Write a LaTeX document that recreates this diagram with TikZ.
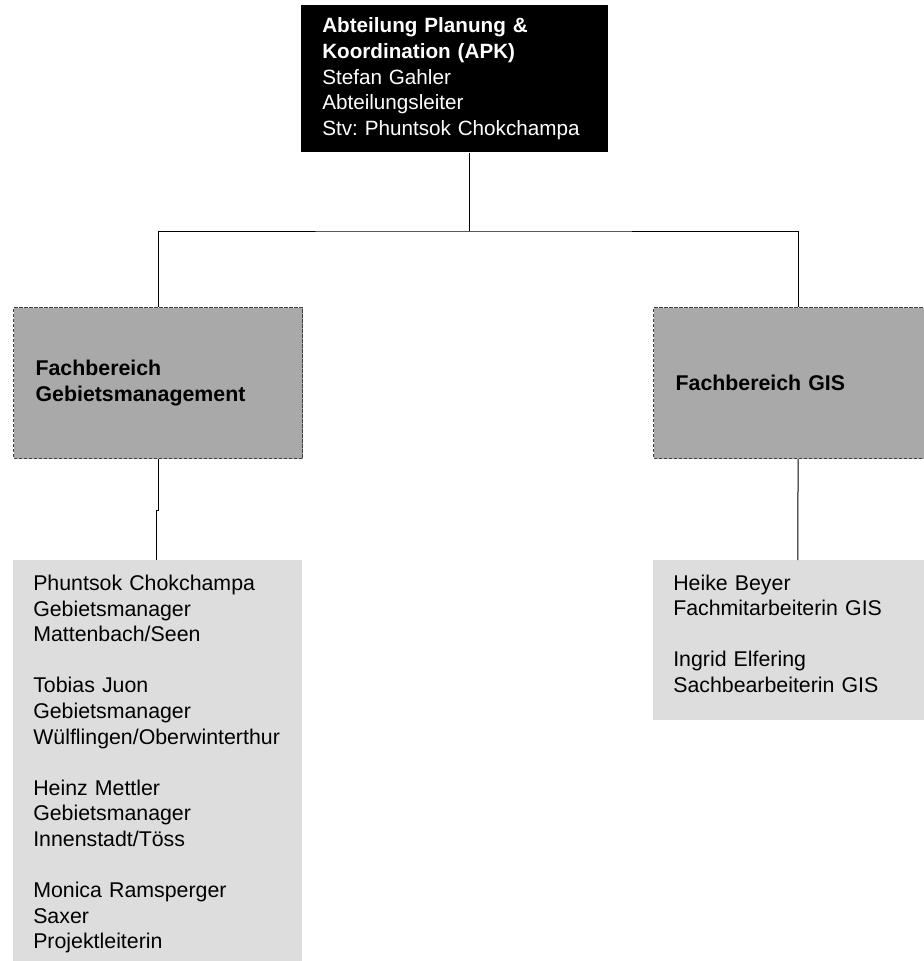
\documentclass[tikz,border=0pt]{standalone}
\usepackage{fontspec}
\setmainfont{Liberation Sans}
\usepackage{xcolor}
\usetikzlibrary{positioning}
\newcommand{\pxu}{0.75pt}
\definecolor{areagray}{HTML}{A9A9A9}
\definecolor{listgray}{HTML}{DDDDDD}
\definecolor{edgegray}{HTML}{404040}
\tikzset{
    headsty/.style={fill=black, text=white, anchor=north west, align=left,
        text width=265*\pxu, inner xsep=21*\pxu, inner ysep=0pt,
        minimum height=147*\pxu, font=\fontsize{15.5}{19.2}\selectfont\frenchspacing},
    areasty/.style={fill=areagray, draw=edgegray, line width=0.9pt,
        dash pattern=on 2.5pt off 1.25pt, anchor=north west, align=left,
        text width=245*\pxu, inner xsep=22*\pxu, inner ysep=0pt,
        minimum height=151*\pxu, font=\fontsize{16}{19.2}\selectfont\bfseries},
    liststy/.style={fill=listgray, anchor=north west, align=left,
        text width=249*\pxu, inner xsep=20*\pxu, inner ysep=0pt,
        font=\fontsize{16}{19.2}\selectfont\frenchspacing},
    linksty/.style={draw=black, line width=0.75pt},
}

\begin{document}
\begin{tikzpicture}[x=\pxu, y=-\pxu]
  \useasboundingbox (0,0) rectangle (924,961);

  \node[headsty] (apk) at (301,5)
    {{\bfseries Abteilung Planung \&\\ Koordination (APK)}\\
     Stefan Gahler\\ Abteilungsleiter\\ Stv: Phuntsok Chokchampa};

  \node[areasty] (gm)  at (13,307)  {Fachbereich\\ Gebietsmanagement};
  \node[areasty] (gis) at (653,307) {Fachbereich GIS};

  \node[liststy, minimum height=408*\pxu] (gml) at (13,560)
    {Phuntsok Chokchampa\\ Gebietsmanager\\ Mattenbach/Seen\\[\baselineskip]
     Tobias Juon\\ Gebietsmanager\\ Wülflingen/Oberwinterthur\\[\baselineskip]
     Heinz Mettler\\ Gebietsmanager\\ Innenstadt/Töss\\[\baselineskip]
     Monica Ramsperger\\ Saxer\\ Projektleiterin};
  \node[liststy, minimum height=160*\pxu, text depth=87pt] (gisl) at (653,560)
    {Heike Beyer\\ Fachmitarbeiterin GIS\\[\baselineskip]
     Ingrid Elfering\\ Sachbearbeiterin GIS};

  \coordinate (bus) at (469,231);
  \coordinate (jog) at (156,510);

  \draw[linksty] (apk.south -| bus) -- (bus);
  \draw[linksty] (gm.north) |- (bus) -| (gis.north);
  \draw[linksty] (gm.south) |- (jog) -- (jog |- gml.north);
  \draw[linksty] (gis.south) -- (gisl.north);
\end{tikzpicture}
\end{document}
